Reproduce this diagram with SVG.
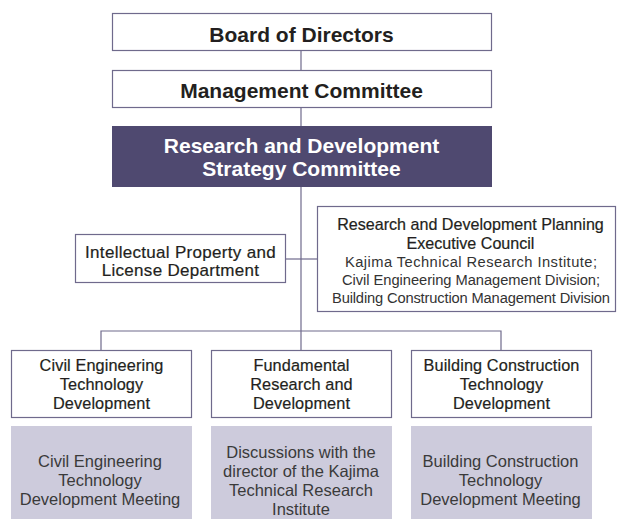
<svg xmlns="http://www.w3.org/2000/svg" width="617" height="524" viewBox="0 0 617 524">
<style>
.box{fill:#ffffff;stroke:#6f6a8c;stroke-width:1.2}
.dark{fill:#4f4970}
.meet{fill:#cdcbdc}
.ln{stroke:#6f6a8c;stroke-width:1.2;fill:none}
text{font-family:"Liberation Sans",Arial,sans-serif;text-anchor:middle}
.b{font-size:21px;font-weight:bold;fill:#231f20}
.w{font-size:21px;font-weight:bold;fill:#ffffff}
.m{font-size:17px;fill:#231f20;stroke:#231f20;stroke-width:0.2;letter-spacing:0.3px}
.pt{font-size:16.1px;fill:#231f20;stroke:#231f20;stroke-width:0.2}
.mt{font-size:16.3px;fill:#231f20;stroke:#231f20;stroke-width:0.2;letter-spacing:0.1px}
.l{font-size:14.7px;fill:#333333}
.ml{font-size:16.5px;fill:#3a3a3a}
</style>
<rect width="617" height="524" fill="#ffffff"/>
<g id="connectors">
<line class="ln" x1="301" y1="51" x2="301" y2="70"/>
<line class="ln" x1="301" y1="107" x2="301" y2="126"/>
<line class="ln" x1="301" y1="187" x2="301" y2="350"/>
<line class="ln" x1="286" y1="259" x2="317" y2="259"/>
<polyline class="ln" points="101,350 101,331 501,331 501,350"/>
</g>
<g id="board">
<rect class="box" x="112.5" y="13.5" width="379" height="37"/>
<text class="b" x="301.5" y="41.5">Board of Directors</text>
</g>
<g id="management">
<rect class="box" x="112.5" y="70.5" width="379" height="37"/>
<text class="b" x="301.5" y="98">Management Committee</text>
</g>
<g id="strategy">
<rect class="dark" x="112" y="126" width="380" height="61"/>
<text class="w" x="301.5" y="153">Research and Development</text>
<text class="w" x="301.5" y="176">Strategy Committee</text>
</g>
<g id="ip">
<rect class="box" x="75.5" y="234.5" width="210" height="48"/>
<text class="m" x="180.5" y="257.5">Intellectual Property and</text>
<text class="m" x="180.5" y="276">License Department</text>
</g>
<g id="planning">
<rect class="box" x="317.5" y="206.5" width="298" height="105"/>
<text class="pt" x="470.5" y="230">Research and Development Planning</text>
<text class="pt" x="470.5" y="248.5">Executive Council</text>
<text class="l" x="471" y="267" textLength="252" lengthAdjust="spacing">Kajima Technical Research Institute;</text>
<text class="l" x="471" y="285" textLength="258" lengthAdjust="spacing">Civil Engineering Management Division;</text>
<text class="l" x="471" y="303" textLength="278" lengthAdjust="spacing">Building Construction Management Division</text>
</g>
<g id="civil">
<rect class="box" x="11.5" y="350.5" width="180" height="67"/>
<text class="mt" x="101.5" y="370.5">Civil Engineering</text>
<text class="mt" x="101.5" y="389.5">Technology</text>
<text class="mt" x="101.5" y="408.5">Development</text>
</g>
<g id="fundamental">
<rect class="box" x="211.5" y="350.5" width="180" height="67"/>
<text class="mt" x="301.5" y="370.5">Fundamental</text>
<text class="mt" x="301.5" y="389.5">Research and</text>
<text class="mt" x="301.5" y="408.5">Development</text>
</g>
<g id="building">
<rect class="box" x="411.5" y="350.5" width="180" height="67"/>
<text class="mt" x="501.5" y="370.5">Building Construction</text>
<text class="mt" x="501.5" y="389.5">Technology</text>
<text class="mt" x="501.5" y="408.5">Development</text>
</g>
<g id="civil-meeting">
<rect class="meet" x="11" y="426" width="181" height="93"/>
<text class="ml" x="100" y="466.5">Civil Engineering</text>
<text class="ml" x="100" y="485.5">Technology</text>
<text class="ml" x="100" y="504.5">Development Meeting</text>
</g>
<g id="fundamental-meeting">
<rect class="meet" x="211" y="426" width="181" height="93"/>
<text class="ml" x="301" y="457.5">Discussions with the</text>
<text class="ml" x="301" y="476.5">director of the Kajima</text>
<text class="ml" x="301" y="495.5">Technical Research</text>
<text class="ml" x="301" y="514.5">Institute</text>
</g>
<g id="building-meeting">
<rect class="meet" x="411" y="426" width="181" height="93"/>
<text class="ml" x="500.5" y="466.5">Building Construction</text>
<text class="ml" x="500.5" y="485.5">Technology</text>
<text class="ml" x="500.5" y="504.5">Development Meeting</text>
</g>
</svg>
